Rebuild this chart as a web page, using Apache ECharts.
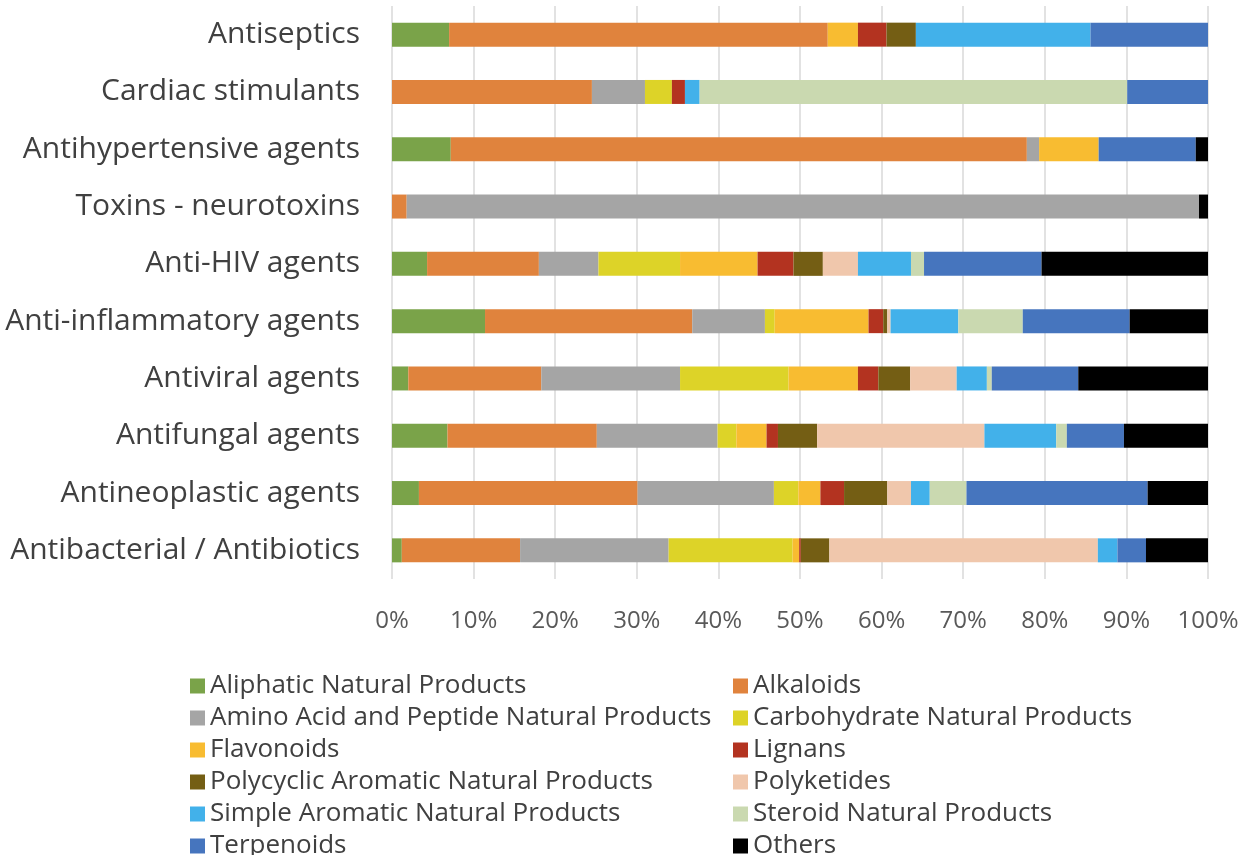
<!DOCTYPE html>
<html>
<head>
<meta charset="utf-8">
<script src="https://cdn.jsdelivr.net/npm/echarts@6/dist/echarts.min.js"></script>
<style>
  html, body { margin: 0; padding: 0; background: #fff; }
  #chart { width: 1246px; height: 855px; }
</style>
</head>
<body>
<div id="chart"></div>
<script>
// categories, top to bottom
const categories = ['Antiseptics', 'Cardiac stimulants', 'Antihypertensive agents', 'Toxins - neurotoxins',
  'Anti-HIV agents', 'Anti-inflammatory agents', 'Antiviral agents', 'Antifungal agents',
  'Antineoplastic agents', 'Antibacterial / Antibiotics']

// share of each class (%) per category
const aliphatic = [7.0, 0, 7.2, 0, 4.3, 11.4, 2.0, 6.8, 3.3, 1.2]
const alkaloids = [46.4, 24.5, 70.6, 1.8, 13.7, 25.4, 16.3, 18.3, 26.8, 14.5]
const aminoAcid = [0, 6.5, 1.5, 97.1, 7.3, 8.9, 17.0, 14.8, 16.7, 18.2]
const carbohydrate = [0, 3.3, 0, 0, 10.0, 1.2, 13.3, 2.3, 3.0, 15.2]
const flavonoids = [3.7, 0, 7.3, 0, 9.5, 11.5, 8.5, 3.7, 2.7, 0.8]
const lignans = [3.5, 1.6, 0, 0, 4.4, 1.8, 2.5, 1.4, 2.9, 0.2]
const polycyclic = [3.6, 0, 0, 0, 3.6, 0.5, 3.9, 4.8, 5.3, 3.5]
const polyketides = [0, 0, 0, 0, 4.3, 0.4, 5.7, 20.5, 2.9, 32.9]
const simpleAromatic = [21.4, 1.8, 0, 0, 6.5, 8.3, 3.7, 8.8, 2.3, 2.4]
const steroid = [0, 52.4, 0, 0, 1.6, 7.9, 0.6, 1.3, 4.5, 0]
const terpenoids = [14.4, 9.9, 11.9, 0, 14.4, 13.1, 10.6, 7.0, 22.2, 3.5]
const others = [0, 0, 1.5, 1.1, 20.4, 9.6, 15.9, 10.3, 7.4, 7.6]

const xTicks = [0, 10, 20, 30, 40, 50, 60, 70, 80, 90, 100]

const seriesDefs = [
  { name: 'Aliphatic Natural Products', data: aliphatic, color: '#7aa349' },
  { name: 'Alkaloids', data: alkaloids, color: '#e0833d' },
  { name: 'Amino Acid and Peptide Natural Products', data: aminoAcid, color: '#a5a5a5' },
  { name: 'Carbohydrate Natural Products', data: carbohydrate, color: '#ddd328' },
  { name: 'Flavonoids', data: flavonoids, color: '#f8bc31' },
  { name: 'Lignans', data: lignans, color: '#b33320' },
  { name: 'Polycyclic Aromatic Natural Products', data: polycyclic, color: '#745e14' },
  { name: 'Polyketides', data: polyketides, color: '#f0c7ac' },
  { name: 'Simple Aromatic Natural Products', data: simpleAromatic, color: '#42b1ea' },
  { name: 'Steroid Natural Products', data: steroid, color: '#cad9b0' },
  { name: 'Terpenoids', data: terpenoids, color: '#4675be' },
  { name: 'Others', data: others, color: '#000000' }
]

const font = 'Open Sans'
const legendText = { color: '#404040', fontSize: 26, fontFamily: font, lineHeight: 32 }

let chart = echarts.init(document.getElementById('chart'))

const legendBase = {
  orient: 'vertical', top: 665, height: 220, itemGap: 0,
  icon: 'rect', itemWidth: 15, itemHeight: 15,
  textStyle: legendText
}

let option = {
  animation: false,
  grid: { left: 392, right: 38, top: 6, bottom: 276 },
  legend: [
    Object.assign({}, legendBase, {
      left: 185,
      data: seriesDefs.filter((s, i) => i % 2 === 0).map(s => s.name)
    }),
    Object.assign({}, legendBase, {
      left: 728,
      data: seriesDefs.filter((s, i) => i % 2 === 1).map(s => s.name)
    })
  ],
  xAxis: {
    type: 'value',
    min: xTicks[0],
    max: xTicks[xTicks.length - 1],
    interval: 10,
    axisLine: { show: false },
    axisTick: { show: false },
    splitLine: { lineStyle: { color: '#d9d9d9', width: 1.5 } },
    axisLabel: {
      margin: 30,
      color: '#595959',
      fontSize: 24,
      fontFamily: font,
      formatter: '{value}%'
    }
  },
  yAxis: {
    type: 'category',
    inverse: true,
    data: categories,
    axisLine: { show: false },
    axisTick: { show: false },
    axisLabel: {
      margin: 32,
      color: '#404040',
      fontSize: 30,
      fontFamily: font
    }
  },
  series: seriesDefs.map(s => ({
    name: s.name,
    type: 'bar',
    stack: 'total',
    barWidth: 24,
    data: s.data,
    itemStyle: { color: s.color }
  }))
}

chart.setOption(option)
</script>
</body>
</html>
